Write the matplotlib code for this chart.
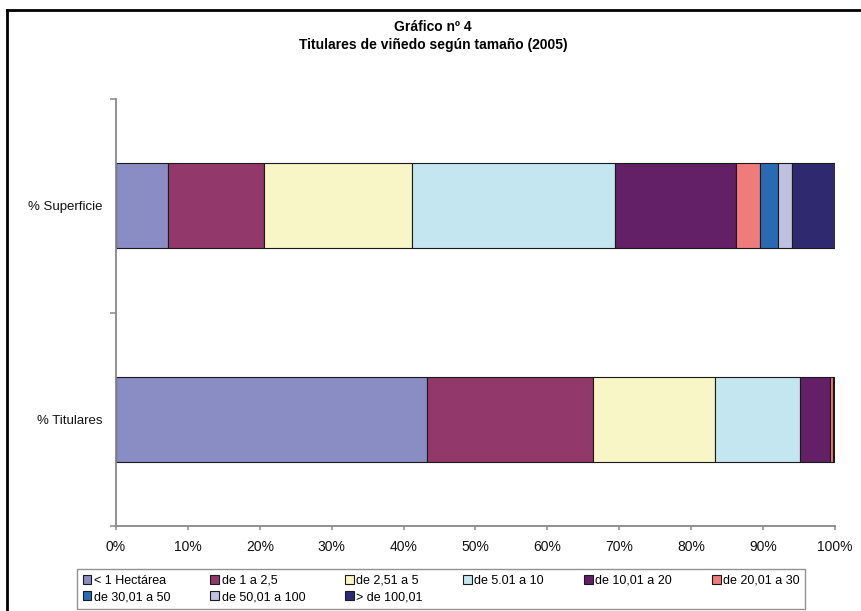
import matplotlib
matplotlib.use("Agg")
import matplotlib.pyplot as plt
from matplotlib.lines import Line2D
from matplotlib.ticker import PercentFormatter

plt.rcParams['font.family'] = ['Liberation Sans', 'DejaVu Sans']

categories = ["% Titulares", "% Superficie"]
series_labels = ["< 1 Hectárea", "de 1 a 2,5", "de 2,51 a 5", "de 5.01 a 10",
                 "de 10,01 a 20", "de 20,01 a 30", "de 30,01 a 50",
                 "de 50,01 a 100", "> de 100,01"]
titulares = [43.3, 23.1, 16.9, 11.9, 4.1, 0.4, 0.2, 0.05, 0.05]
superficie = [7.3, 13.3, 20.6, 28.2, 16.8, 3.4, 2.5, 1.9, 6.0]
colors = ["#8a8cc4", "#93386b", "#f8f5c6", "#c4e6f0", "#632067",
          "#f07b7b", "#2a6ab3", "#c0c0e0", "#2f2a70"]
xticks = [0, 10, 20, 30, 40, 50, 60, 70, 80, 90, 100]

W, H = 862, 611
fig = plt.figure(figsize=(W / 100, H / 100), dpi=100)
ax = fig.add_axes([116 / W, 1 - 526 / H, 719 / W, 427 / H])

left = [0.0, 0.0]
for i, lab in enumerate(series_labels):
    vals = [titulares[i], superficie[i]]
    ax.barh([0, 1], vals, left=left, height=0.40, color=colors[i],
            edgecolor="#1a1a1a", linewidth=0.8, label=lab)
    left = [left[0] + vals[0], left[1] + vals[1]]

ax.set_xlim(0, 100)
ax.set_ylim(-0.5, 1.5)
ax.set_xticks(xticks)
ax.xaxis.set_major_formatter(PercentFormatter(decimals=0))
ax.set_yticks([0, 1])
ax.set_yticklabels(categories)
ax.set_yticks([-0.5, 0.5, 1.5], minor=True)
ax.tick_params(axis='y', which='major', length=0, pad=10, labelsize=9.5, colors='#111')
ax.tick_params(axis='y', which='minor', length=4, width=1.1, color='#888')
ax.tick_params(axis='x', which='major', length=3, width=1.1, color='#888',
               pad=7, labelsize=10, labelcolor='#111')
for s in ['top', 'right']:
    ax.spines[s].set_visible(False)
for s in ['left', 'bottom']:
    ax.spines[s].set_color('#888')
    ax.spines[s].set_linewidth(1.3)

fig.text(433 / W, 1 - 27 / H, "Gráfico nº 4", ha='center', va='center',
         fontsize=10, fontweight='bold')
fig.text(433 / W, 1 - 45 / H, "Titulares de viñedo según tamaño (2005)",
         ha='center', va='center', fontsize=10, fontweight='bold')

# figure border (top and left)
fig.add_artist(Line2D([7.5 / W, 1.0], [1 - 9.5 / H, 1 - 9.5 / H],
                      transform=fig.transFigure, color='black', linewidth=2))
fig.add_artist(Line2D([7.5 / W, 7.5 / W], [1 - 9.5 / H, 0],
                      transform=fig.transFigure, color='black', linewidth=2))

# legend: row-major reading order with 6 columns
handles, labels = ax.get_legend_handles_labels()
order = [0, 6, 1, 7, 2, 8, 3, 4, 5]
leg = fig.legend([handles[k] for k in order], [labels[k] for k in order],
                 loc='upper left', bbox_to_anchor=(77 / W, 1 - 569 / H),
                 ncol=6, fontsize=9, frameon=True, fancybox=False,
                 edgecolor='#777', handlelength=0.7, handleheight=0.7,
                 handletextpad=0.2, columnspacing=3.2, labelspacing=0.35,
                 borderpad=0.45, borderaxespad=0)
leg.get_frame().set_linewidth(1.0)

fig.savefig("out.png", dpi=100)
